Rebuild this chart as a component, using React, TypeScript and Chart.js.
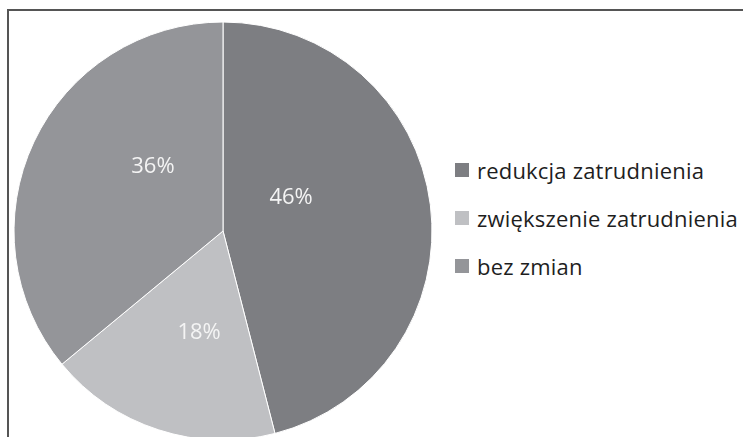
import React, { useEffect, useRef } from "react";
import { Chart, registerables } from "chart.js";

Chart.register(...registerables);

// ---- data ----
const categories = ["redukcja zatrudnienia", "zwiększenie zatrudnienia", "bez zmian"];
const shares = [46, 18, 36];
const valueLabels = ["46%", "18%", "36%"];

// ---- style ----
const sliceColors = ["#7d7e82", "#bfc0c3", "#949599"];
const labelRadiusFrac = [0.362, 0.501, 0.454];
const labelAngleShiftDeg = [-18.7, -4.8, 17.2];
const FONT = "'Open Sans', 'DejaVu Sans', sans-serif";

const labelPlugin = {
  id: "sliceLabels",
  afterDatasetsDraw(chart: any) {
    const meta = chart.getDatasetMeta(0);
    const ctx = chart.ctx;
    ctx.save();
    ctx.fillStyle = "#f4f4f4";
    ctx.font = `22px ${FONT}`;
    ctx.textAlign = "center";
    ctx.textBaseline = "middle";
    meta.data.forEach((arc: any, i: number) => {
      const p = arc.getProps(["x", "y", "startAngle", "endAngle", "outerRadius"], true);
      const mid = (p.startAngle + p.endAngle) / 2 + (labelAngleShiftDeg[i] * Math.PI) / 180;
      const r = p.outerRadius * labelRadiusFrac[i];
      ctx.fillText(valueLabels[i], p.x + Math.cos(mid) * r, p.y + Math.sin(mid) * r);
    });
    ctx.restore();
  },
};

export default function App() {
  const ref = useRef<HTMLCanvasElement>(null);
  useEffect(() => {
    if (!ref.current) return;
    const chart = new Chart(ref.current, {
      type: "pie",
      data: {
        labels: categories,
        datasets: [
          {
            data: shares,
            backgroundColor: sliceColors,
            borderColor: "#ffffff",
            borderWidth: 1,
          },
        ],
      },
      options: {
        responsive: false,
        animation: false,
        radius: 209,
        layout: { padding: 0 },
        plugins: { legend: { display: false }, tooltip: { enabled: false } },
      },
      plugins: [labelPlugin],
    });
    return () => chart.destroy();
  }, []);

  return (
    <div
      style={{
        position: "fixed",
        left: 0,
        top: 0,
        width: 743,
        height: 437,
        overflow: "hidden",
        background: "#fff",
      }}
    >
      <div
        style={{
          position: "absolute",
          left: 7,
          top: 9,
          width: 800,
          height: 500,
          border: "2px solid #555555",
        }}
      />
      <canvas
        ref={ref}
        width={446}
        height={462}
        style={{ position: "absolute", left: 0, top: 0, width: 446, height: 462 }}
      />
      <div style={{ position: "absolute", left: 455, top: 154, fontFamily: FONT, fontSize: 22, color: "#1e1e1e" }}>
        {categories.map((c, i) => (
          <div key={c} style={{ display: "flex", alignItems: "center", height: 32, marginBottom: i < categories.length - 1 ? 16 : 0 }}>
            <span style={{ display: "inline-block", width: 14, height: 14, background: sliceColors[i], marginRight: 8 }} />
            <span style={{ whiteSpace: "nowrap", letterSpacing: 0.2 }}>{c}</span>
          </div>
        ))}
      </div>
    </div>
  );
}
